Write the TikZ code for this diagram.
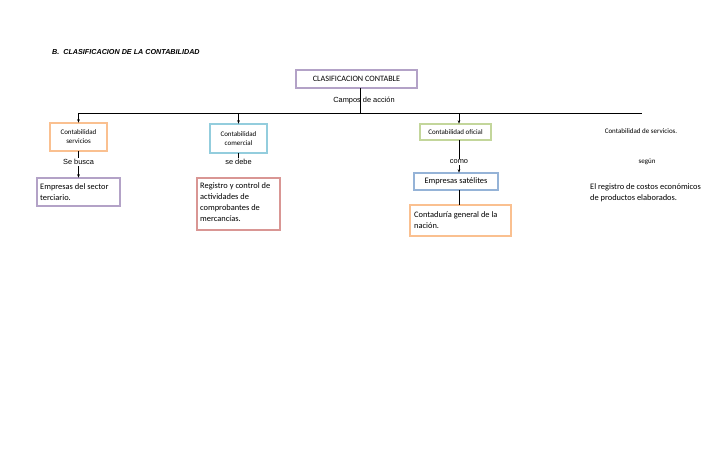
\documentclass[tikz,border=0pt]{standalone}
\usepackage{fontspec}
\setmainfont{Carlito}
\newfontfamily\arialf{Liberation Sans}
\usetikzlibrary{arrows.meta}
\definecolor{cpurple}{HTML}{8064A2}
\definecolor{cpurplel}{HTML}{B3A2C7}
\definecolor{corange}{HTML}{F79646}
\definecolor{corangel}{HTML}{FAC090}
\definecolor{ccyan}{HTML}{4BACC6}
\definecolor{ccyanl}{HTML}{93CDDD}
\definecolor{cred}{HTML}{C0504D}
\definecolor{credl}{HTML}{D99694}
\definecolor{cgreen}{HTML}{9BBB59}
\definecolor{cgreenl}{HTML}{C3D69B}
\definecolor{cblue}{HTML}{4F81BD}
\definecolor{cbluel}{HTML}{95B3D7}
\tikzset{
  wbox/.style={draw=#1, line width=0.5pt, double=#1l, double distance=1.7pt, inner sep=0pt, anchor=center},
  small/.style={font=\fontsize{7}{9}\selectfont, align=center},
  big/.style={font=\fontsize{8.4}{11}\selectfont, align=left},
  lab/.style={font=\arialf\fontsize{7.4}{9}\selectfont, inner sep=1pt},
  conn/.style={line width=0.6pt, black},
  arr/.style={conn, -{Stealth[length=3.5pt,width=2.6pt]}}
}
\begin{document}
\begin{tikzpicture}[x=1pt,y=-1pt]
\useasboundingbox (0,0) rectangle (728,472);
\fill[white] (0,0) rectangle (728,472);

\node[anchor=west, font=\arialf\bfseries\itshape\fontsize{7.2}{9}\selectfont, inner sep=0pt] (title) at (52,52) {B.\ \ CLASIFICACION DE LA CONTABILIDAD};

\node[wbox=cpurple, minimum width=121pt, minimum height=18pt, font=\fontsize{8.2}{10}\selectfont] (top) at (356.5,79) {CLASIFICACION CONTABLE};

\coordinate (h1) at (78.5,113);
\coordinate (h2) at (238.5,113);
\coordinate (h3) at (459,113);
\coordinate (h4) at (642,113);
\coordinate (hc) at (360,113);

\draw[conn] (top.south -| hc) -- (hc);
\node[lab] (campos) at (364,101) {Campos de acción};
\draw[conn] (h1) -- (h4);

% boxes level 1
\node[wbox=corange, minimum width=57pt, minimum height=28pt, small] (L1) at (78.5,137) {Contabilidad\\servicios};
\node[wbox=ccyan, minimum width=57pt, minimum height=29pt, small] (C1) at (238.5,138.5) {Contabilidad\\comercial};
\node[wbox=cgreen, minimum width=71pt, minimum height=16pt, small] (G1) at (455.5,132) {Contabilidad oficial};
\node[small, inner sep=0pt] (S1) at (641,131) {Contabilidad de servicios.};

\draw[arr] (h1) -- (L1.north -| h1);
\draw[arr] (h2) -- (C1.north -| h2);
\draw[arr] (h3) -- (G1.north -| h3);

% labels
\node[lab] (busca) at (78.5,162) {Se busca};
\node[lab] (debe) at (238.5,162) {se debe};
\node[lab] (como) at (459,162) {como};
\node[small, inner sep=1pt] (segun) at (647,162) {según};

\draw[conn] (L1.south -| busca) -- (busca.north);
\draw[conn] (C1.south -| debe) -- (debe.north);
\draw[conn] (G1.south -| como) -- (como.north);

% level 2
\node[wbox=cpurple, minimum width=83pt, minimum height=28pt] (P2) at (78.5,192) {};
\node[big, anchor=north west, inner sep=0pt] (P2t) at (40,183.5) {Empresas del sector\\terciario.};
\node[wbox=cred, minimum width=83pt, minimum height=52pt] (R2) at (238.5,204) {};
\node[big, anchor=north west, inner sep=0pt] (R2t) at (200,182.5) {Registro y control de\\actividades de\\comprobantes de\\mercancías.};
\node[wbox=cblue, minimum width=84pt, minimum height=17pt, big, align=center] (B2) at (456,181.5) {Empresas satélites};
\node[wbox=corange, minimum width=101pt, minimum height=31pt] (O3) at (460.5,220.5) {};
\node[big, anchor=north west, inner sep=0pt] (O3t) at (414,211) {Contaduría general de la\\nación.};
\node[big, anchor=north west, inner sep=0pt] (E2) at (590,183.5) {El registro de costos económicos\\de productos elaborados.};

\draw[arr] (busca.south) -- (P2.north -| busca);
\draw[arr] (como.south) -- (B2.north -| como);
\draw[conn] (B2.south -| como) -- (O3.north -| como);
\end{tikzpicture}
\end{document}
